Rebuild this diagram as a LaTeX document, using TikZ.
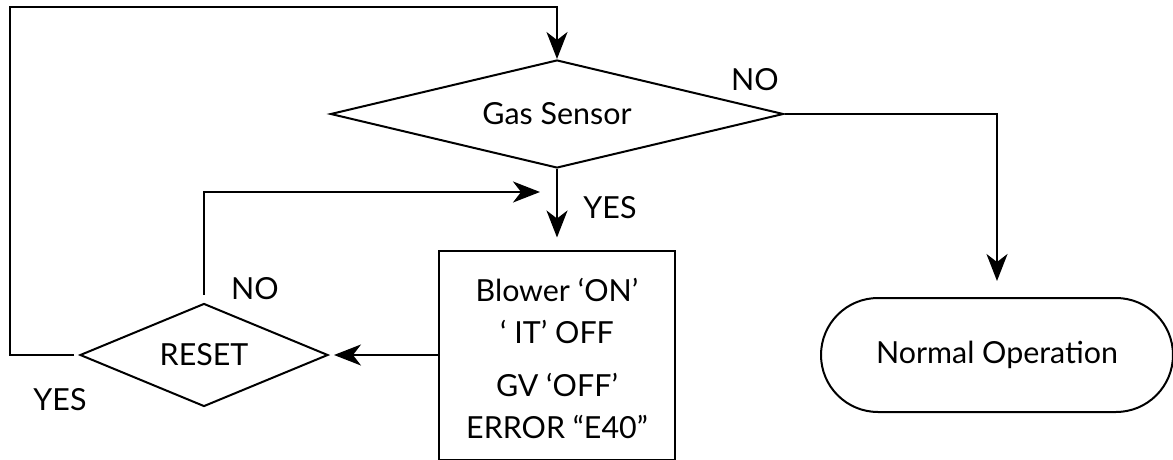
\documentclass[tikz,border=0pt]{standalone}
\usepackage{fontspec}
\setmainfont{Lato}
\usetikzlibrary{arrows.meta,shapes.geometric,shapes.misc}

\begin{document}
\begin{tikzpicture}[
  x=0.5pt, y=-0.5pt,
  every node/.style={font=\fontsize{15.2}{21}\selectfont, align=center},
  dec/.style={diamond, draw=black, line width=1pt, inner sep=0pt},
  box/.style={draw=black, line width=1pt, inner sep=0pt},
  term/.style={rounded rectangle, draw=black, line width=1pt, inner sep=0pt},
  lbl/.style={inner sep=0pt},
  arr/.style={-{Stealth[length=13.5pt, width=10.5pt, inset=4pt]}, line width=1pt},
]
  \useasboundingbox (0,0) rectangle (1173,460);

  \node[dec, minimum width=226.5pt, minimum height=54pt, aspect=4.2] (gas) at (557,114) {Gas Sensor};
  \node[box, minimum width=118pt, minimum height=104.5pt] (act) at (557,355)
    {\rule{0pt}{15pt}Blower ‘ON’\\‘ IT’ OFF\\[5.5pt]GV ‘OFF’\\ERROR “E40”};
  \node[dec, minimum width=124pt, minimum height=51.5pt, aspect=2.4] (reset) at (204,355) {RESET};
  \node[term, minimum width=176pt, minimum height=57pt] (norm) at (997,355) {Normal Operation};

  \node[lbl] (no1) at (755,80) {NO};
  \node[lbl] (yes1) at (610,208) {YES};
  \node[lbl] (no2) at (255,289) {NO};
  \node[lbl] (yes2) at (60,400) {YES};

  \coordinate (topleft) at (10,7);
  \coordinate (merge) at (540,192);

  \draw[arr, shorten >=6pt] (gas.south) -- (act.north);
  \draw[arr, shorten >=2.5pt] (act.west) -- (reset.east);
  \draw[arr, shorten >=8pt] (gas.east) -| (norm.north);
  \draw[arr, shorten <=2.5pt] (reset.west) -| (topleft) -| (gas.north);
  \draw[arr, shorten <=4pt] (reset.north) |- (merge);
\end{tikzpicture}
\end{document}
